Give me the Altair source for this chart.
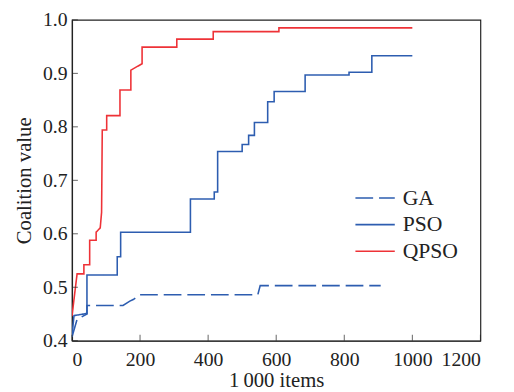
import altair as alt
import pandas as pd

# ---- data ----
series_names = ["GA", "PSO", "QPSO"]
series_colors = ["#2d5db0", "#2d5db0", "#ee3237"]
series_dashes = [[18, 6], [1, 0], [1, 0]]

ga_x = [0, 15, 44, 44, 150, 170, 180, 199, 546, 553, 907]
ga_y = [0.407, 0.440, 0.450, 0.466, 0.466, 0.474, 0.477, 0.486, 0.486, 0.503, 0.503]

pso_x = [0, 6, 44, 44, 133, 133, 143, 143, 348, 348, 418, 418, 428, 428, 500, 500,
         519, 519, 536, 536, 575, 575, 594, 594, 685, 685, 814, 814, 881, 881, 1000]
pso_y = [0.409, 0.447, 0.451, 0.523, 0.523, 0.557, 0.557, 0.603, 0.603, 0.665, 0.665,
         0.678, 0.678, 0.754, 0.754, 0.767, 0.767, 0.784, 0.784, 0.808, 0.808, 0.847,
         0.847, 0.866, 0.866, 0.897, 0.897, 0.902, 0.902, 0.933, 0.933]

qpso_x = [0, 15, 35, 35, 52, 52, 71, 71, 83, 87, 89, 102, 102, 141, 141, 173, 173,
          206, 206, 308, 308, 415, 415, 608, 608, 1000]
qpso_y = [0.446, 0.525, 0.525, 0.542, 0.542, 0.588, 0.588, 0.603, 0.611, 0.640, 0.794,
          0.794, 0.821, 0.821, 0.869, 0.869, 0.906, 0.918, 0.949, 0.949, 0.964, 0.964,
          0.978, 0.978, 0.985, 0.985]

x_ticks = [0, 200, 400, 600, 800, 1000, 1200]
y_ticks = [0.4, 0.5, 0.6, 0.7, 0.8, 0.9, 1.0]

rows = []
for name, xs, ys in [("GA", ga_x, ga_y), ("PSO", pso_x, pso_y), ("QPSO", qpso_x, qpso_y)]:
    for i, (a, b) in enumerate(zip(xs, ys)):
        rows.append({"series": name, "x": a, "y": b, "order": i})
df = pd.DataFrame(rows)

W, H = 415, 326
FONT = "Liberation Serif"

legend = alt.Legend(
    title=None, orient="none", legendX=297, legendY=170, padding=0,
    symbolType="M-2,0H2", symbolSize=400, symbolStrokeWidth=1.6,
    labelFont=FONT, labelFontSize=22, labelColor="#222", labelOffset=17,
    rowPadding=5, labelLimit=200,
)

xscale = alt.Scale(domain=[0, 1200], nice=False)
yscale = alt.Scale(domain=[0.4, 1.0], nice=False, zero=False)

lines = alt.Chart(df).mark_line(strokeWidth=1.6, clip=True).encode(
    x=alt.X("x:Q", scale=xscale,
            axis=alt.Axis(values=x_ticks, format="d", title="1\u2009000 items", grid=False,
                          tickSize=0, labelPadding=9, titlePadding=1)),
    y=alt.Y("y:Q", scale=yscale,
            axis=alt.Axis(values=y_ticks, format=".1f", title="Coalition value", grid=False,
                          tickSize=0, labelPadding=5, titlePadding=8)),
    color=alt.Color("series:N", scale=alt.Scale(domain=series_names, range=series_colors),
                    legend=legend),
    strokeDash=alt.StrokeDash("series:N",
                              scale=alt.Scale(domain=series_names, range=series_dashes),
                              legend=legend),
    order="order:Q",
)

xt = alt.Chart(pd.DataFrame({"x": x_ticks})).mark_tick(
    orient="vertical", size=6, thickness=1, color="#222").encode(
    x=alt.X("x:Q", scale=xscale), y=alt.value(H - 3))

yt = alt.Chart(pd.DataFrame({"y": y_ticks})).mark_tick(
    orient="horizontal", size=6, thickness=1, color="#222").encode(
    y=alt.Y("y:Q", scale=yscale), x=alt.value(3))

chart = alt.layer(lines, xt, yt).properties(
    width=W, height=H,
    background="white",
    autosize=alt.AutoSizeParams(type="none"),
    padding={"left": 65, "top": 9, "right": 26, "bottom": 48},
).configure_view(stroke="#222", strokeWidth=1.2).configure_axis(
    labelFont=FONT, labelFontSize=20, labelColor="#222",
    titleFont=FONT, titleFontSize=21, titleFontWeight="normal", titleColor="#222",
    domainColor="#222", domainWidth=1.2,
)

chart.save("out.html", embed_options={"renderer": "svg", "actions": False})
